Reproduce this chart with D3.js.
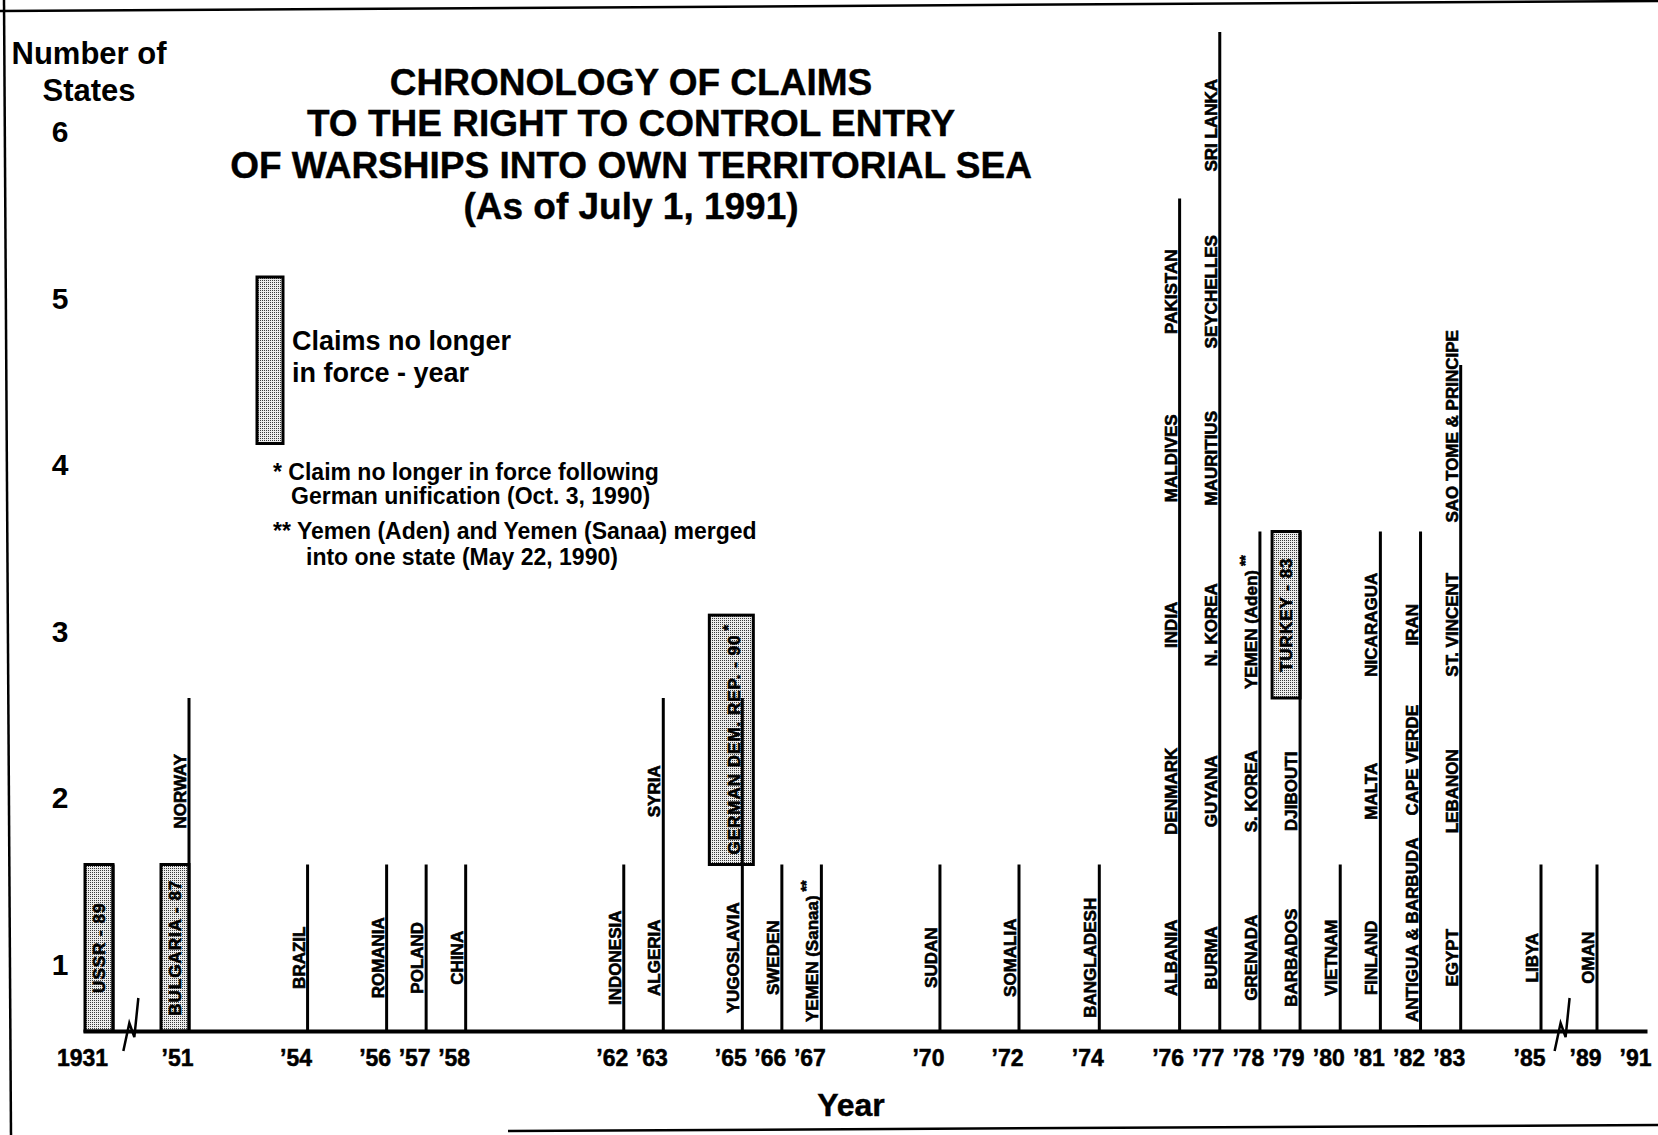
<!DOCTYPE html>
<html><head><meta charset="utf-8">
<script src="https://cdn.jsdelivr.net/npm/d3@7"></script>
<style>
html,body{margin:0;padding:0;background:#fff;}
svg{display:block;}
text{font-family:"Liberation Sans", Arial, Helvetica, sans-serif;font-weight:bold;fill:#000;}
</style></head><body>
<svg id="chart" width="1658" height="1135"></svg>
<script>
// ---------- data ----------
const titleLines = ["CHRONOLOGY OF CLAIMS","TO THE RIGHT TO CONTROL ENTRY","OF WARSHIPS INTO OWN TERRITORIAL SEA","(As of July 1, 1991)"];
const yAxisTitle = ["Number of","States"];
const yTickValues = [1,2,3,4,5,6];
const xAxisTitle = "Year";
const tickYears = [1931,1951,1954,1956,1957,1958,1962,1963,1965,1966,1967,1970,1972,1974,1976,1977,1978,1979,1980,1981,1982,1983,1985,1989,1991];
const claimYears = [1931,1951,1951,1954,1956,1957,1958,1962,1963,1963,1965,1965,1966,1967,1970,1972,1974,
  1976,1976,1976,1976,1976,1977,1977,1977,1977,1977,1977,1978,1978,1978,1979,1979,1979,1980,
  1981,1981,1981,1982,1982,1982,1983,1983,1983,1983,1985,1989];
const claimStates = ["USSR - 89","BULGARIA - 87","NORWAY","BRAZIL","ROMANIA","POLAND","CHINA","INDONESIA","ALGERIA","SYRIA",
  "YUGOSLAVIA","GERMAN DEM. REP. - 90","SWEDEN","YEMEN (Sanaa)","SUDAN","SOMALIA","BANGLADESH",
  "ALBANIA","DENMARK","INDIA","MALDIVES","PAKISTAN","BURMA","GUYANA","N. KOREA","MAURITIUS","SEYCHELLES","SRI LANKA",
  "GRENADA","S. KOREA","YEMEN (Aden)","BARBADOS","DJIBOUTI","TURKEY - 83","VIETNAM",
  "FINLAND","MALTA","NICARAGUA","ANTIGUA & BARBUDA","CAPE VERDE","IRAN","EGYPT","LEBANON","ST. VINCENT","SAO TOME & PRINCIPE","LIBYA","OMAN"];
const lapsedStates = ["USSR - 89","BULGARIA - 87","GERMAN DEM. REP. - 90","TURKEY - 83"];
const noteStates = ["GERMAN DEM. REP. - 90","YEMEN (Sanaa)","YEMEN (Aden)"];
const noteMarks = ["*","**","**"];
const axisBreaks = [1935.3, 1986.4];
const legendLabel = ["Claims no longer","in force - year"];
const footnoteLines = ["* Claim no longer in force following","German unification (Oct. 3, 1990)","** Yemen (Aden) and Yemen (Sanaa) merged","into one state (May 22, 1990)"];

// ---------- layout ----------
const svg = d3.select("#chart");
const x = d3.scaleLinear()
  .domain([1930,1931,1951,1972,1985,1989,1991])
  .range([83,113,189,1019,1541,1597,1647]);
const y = d3.scaleLinear().domain([0,6]).range([1031,32]);
const bandH = y(0) - y(1);

// stipple pattern
const defs = svg.append("defs");
const pat = defs.append("pattern").attr("id","stipple").attr("width",2).attr("height",2).attr("patternUnits","userSpaceOnUse");
pat.append("rect").attr("width",2).attr("height",2).attr("fill","#ececec");
pat.append("rect").attr("width",1).attr("height",1).attr("fill","#3a3a3a");

// frame (scanned page border)
const frame = svg.append("g").attr("stroke","#000").attr("stroke-width",2.5).attr("fill","none");
frame.append("line").attr("x1",0).attr("y1",11).attr("x2",1658).attr("y2",1);
frame.append("line").attr("x1",4).attr("y1",0).attr("x2",11).attr("y2",1135);
frame.append("line").attr("x1",508).attr("y1",1131).attr("x2",1658).attr("y2",1125);

// title
svg.append("g").selectAll("text").data(titleLines).join("text")
  .attr("x",631).attr("y",(d,i)=>95 + i*41.3)
  .attr("text-anchor","middle").attr("font-size",37)
  .attr("stroke","#000").attr("stroke-width",0.4).text(d=>d);

// y axis title + tick labels
svg.append("g").selectAll("text").data(yAxisTitle).join("text")
  .attr("x",89).attr("y",(d,i)=>64 + i*37)
  .attr("text-anchor","middle").attr("font-size",31).text(d=>d);
svg.append("g").selectAll("text").data(yTickValues).join("text")
  .attr("x",60).attr("y",d=>y(d-0.6))
  .attr("dominant-baseline","central")
  .attr("text-anchor","middle").attr("font-size",30).text(d=>d);

// claims
const claims = claimStates.map((s,i)=>({
  state:s, year:claimYears[i],
  lapsed: lapsedStates.includes(s),
  note: noteStates.includes(s) ? noteMarks[noteStates.indexOf(s)] : ""
}));
const byYear = d3.group(claims, d=>d.year);
byYear.forEach(arr => arr.forEach((d,i)=>{ d.level = i+1; }));
const yearCounts = Array.from(byYear, ([year,arr])=>({year, count:arr.length}));

const gBoxes = svg.append("g");
const gLines = svg.append("g");
const gLabels = svg.append("g");

// x axis (baseline)
const xAxis = d3.axisBottom(x).tickValues(tickYears).tickSize(0).tickSizeOuter(0)
  .tickFormat(d => d===1931 ? "1931" : "\u2019" + String(d).slice(2));
const gx = svg.append("g").attr("transform",`translate(0,${y(0)})`).call(xAxis);
gx.select(".domain").attr("stroke","#000").attr("stroke-width",4);
gx.selectAll(".tick text")
  .attr("font-family","'Liberation Sans', Arial, sans-serif").attr("font-weight","bold")
  .attr("font-size",23).attr("fill","#000").attr("stroke","#000").attr("stroke-width",0.5)
  .attr("y",35).attr("dy",0)
  .attr("dx", d => d===1931 ? -31 : -12);

// vertical claim lines
gLines.selectAll("line").data(yearCounts).join("line")
  .attr("x1",d=>x(d.year)).attr("x2",d=>x(d.year))
  .attr("y1",y(0)).attr("y2",d=>y(d.count))
  .attr("stroke","#000").attr("stroke-width",3);

// labels and boxes
const prevTop = new Map();
claims.forEach(d=>{
  const lx = x(d.year);
  const t = gLabels.append("text").attr("font-size",17).attr("text-anchor","middle")
    .attr("stroke","#000").attr("stroke-width",0.6);
  if (d.lapsed) t.attr("letter-spacing",1);
  t.append("tspan").text(d.state);
  if (d.note) t.append("tspan").attr("dy",-7).attr("font-size",14).attr("letter-spacing",0).text(" " + d.note);
  const len = t.node().getComputedTextLength();
  let bx, cy;
  if (d.lapsed) {
    const bottomY = y(d.level-1);
    const h = Math.max(bandH, len + 20);
    const topY = bottomY - h;
    const left = d.note ? lx-33 : lx-28;
    const right = d.note ? lx+11 : lx;
    gBoxes.append("rect").attr("x",left).attr("y",topY)
      .attr("width",right-left).attr("height",h)
      .attr("fill","url(#stipple)").attr("stroke","#000").attr("stroke-width",3);
    cy = (topY+bottomY)/2;
    bx = d.note ? lx-2 : lx-8;
  } else {
    cy = y(d.level-0.56);
    const limit = y(d.level-1) - 9;
    if (cy + len/2 > limit) cy = limit - len/2;
    if (prevTop.has(d.year) && cy + len/2 > prevTop.get(d.year) - 22)
      cy = prevTop.get(d.year) - 22 - len/2;
    bx = lx - 3;
  }
  prevTop.set(d.year, cy - len/2);
  t.attr("transform",`translate(${bx},${cy}) rotate(-90)`);
});

// axis breaks
const breakPath = d3.line();
svg.append("g").selectAll("path").data(axisBreaks).join("path")
  .attr("d", b => { const bx = x(b), by = y(0);
    return breakPath([[bx-6,by+20],[bx,by-8],[bx+5,by+6],[bx+9,by-33]]); })
  .attr("fill","none").attr("stroke","#000").attr("stroke-width",2.5);

// x axis title
svg.append("text").attr("x",851).attr("y",1116).attr("text-anchor","middle")
  .attr("font-size",32).attr("stroke","#000").attr("stroke-width",0.4).text(xAxisTitle);

// legend
const lg = svg.append("g");
lg.append("rect").attr("x",257).attr("y",277).attr("width",26).attr("height",bandH)
  .attr("fill","url(#stipple)").attr("stroke","#000").attr("stroke-width",3);
lg.selectAll("text.leg").data(legendLabel).join("text").attr("class","leg")
  .attr("x",292).attr("y",(d,i)=>350 + i*32).attr("font-size",27).text(d=>d);

// footnotes
const fnX = [273,291,273,306], fnY = [480,504,539,565];
svg.append("g").selectAll("text").data(footnoteLines).join("text")
  .attr("x",(d,i)=>fnX[i]).attr("y",(d,i)=>fnY[i]).attr("font-size",23).text(d=>d);
</script>
</body></html>
